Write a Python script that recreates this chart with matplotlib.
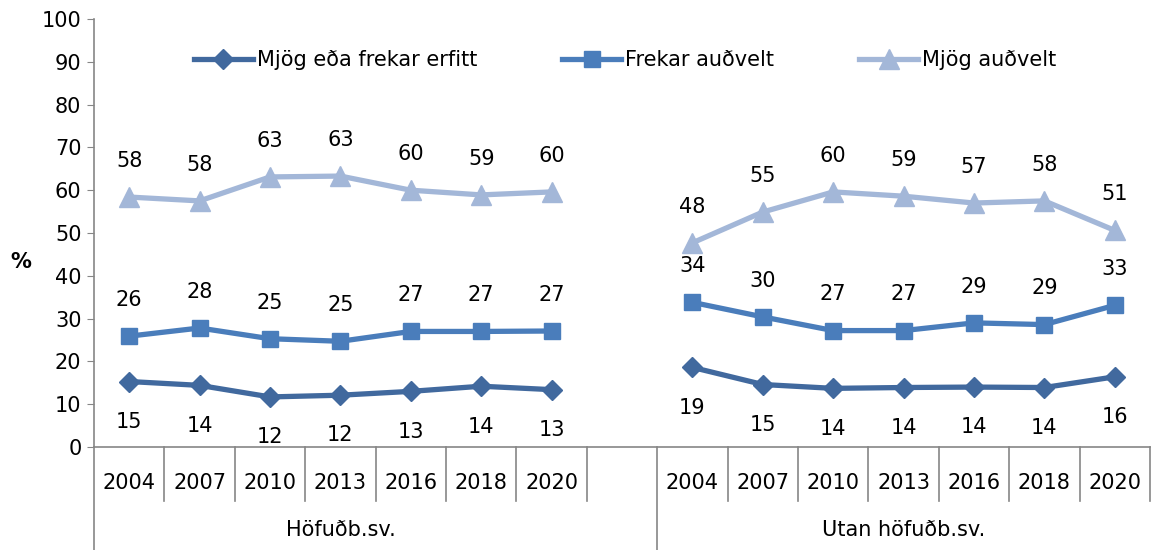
import numpy as np
import matplotlib
matplotlib.use('Agg')
import matplotlib.pyplot as plt
import matplotlib.transforms as mtransforms

plt.rcParams['font.family'] = ['DejaVu Sans']

years = ['2004', '2007', '2010', '2013', '2016', '2018', '2020']
groups = ['Höfuðb.sv.', 'Utan höfuðb.sv.']
series_names = ['Mjög eða frekar erfitt', 'Frekar auðvelt', 'Mjög auðvelt']

# values per group (Höfuðb.sv., Utan höfuðb.sv.)
erfitt_hofud = [15.3, 14.4, 11.7, 12.1, 13.0, 14.2, 13.4]
erfitt_utan = [18.6, 14.6, 13.7, 13.9, 14.0, 13.9, 16.4]
frekar_hofud = [25.9, 27.8, 25.3, 24.7, 27.0, 27.0, 27.1]
frekar_utan = [33.8, 30.4, 27.2, 27.2, 29.0, 28.6, 33.1]
mjog_hofud = [58.4, 57.5, 63.1, 63.3, 60.0, 58.9, 59.6]
mjog_utan = [47.7, 54.9, 59.6, 58.6, 57.0, 57.5, 50.6]

colors = ['#41699E', '#4A7DBB', '#A3B7D8']
markers = ['D', 's', '^']
msizes = [10, 12, 14]
label_offsets = [-29, 26, 26]
FS = 15

n = len(years)
# blank category between the two groups
x_left = np.arange(n)
x_right = np.arange(n) + n + 1
ncat = 2 * n + 1

fig = plt.figure(figsize=(11.51, 5.5), dpi=100)
ax = fig.add_axes([94 / 1151, 1 - 447 / 550, 1056 / 1151, 428 / 550])

data = [(erfitt_hofud, erfitt_utan), (frekar_hofud, frekar_utan), (mjog_hofud, mjog_utan)]
handles = []
for k, (left, right) in enumerate(data):
    vals = np.full(ncat, np.nan)
    vals[x_left] = left
    vals[x_right] = right
    h, = ax.plot(np.arange(ncat), vals, color=colors[k], lw=3.8, marker=markers[k],
                 ms=msizes[k], mec=colors[k], mfc=colors[k], label=series_names[k])
    handles.append(h)
    for xi, v in zip(np.arange(ncat), vals):
        if np.isnan(v):
            continue
        ax.annotate(f'{v:.0f}', (xi, v), xytext=(0, label_offsets[k]),
                    textcoords='offset points', ha='center', va='center', fontsize=FS)

ax.set_xlim(-0.5, ncat - 0.5)
ax.set_ylim(0, 100)
ax.set_yticks(np.arange(0, 101, 10))
ax.tick_params(axis='y', labelsize=FS, length=5, color='#868686', pad=4)
ax.set_xticks([])
ax.set_ylabel('%', rotation=0, fontsize=FS, fontweight='bold', va='center')
ax.yaxis.set_label_coords(-0.069, 0.432)

for s in ['top', 'right']:
    ax.spines[s].set_visible(False)
for s in ['left', 'bottom']:
    ax.spines[s].set_color('#868686')
    ax.spines[s].set_linewidth(1.2)

# multi-level category axis
trans = mtransforms.blended_transform_factory(ax.transData, ax.transAxes)
short_y = -0.125
long_y = -0.25
for b in np.arange(ncat + 1) - 0.5:
    bottom = long_y if b in (-0.5, n + 0.5) else short_y
    ax.plot([b, b], [0, bottom], transform=trans, color='#868686', lw=1.2, clip_on=False)

for xs in (x_left, x_right):
    for xi, yr in zip(xs, years):
        ax.text(xi, -0.084, yr, transform=trans, ha='center', va='center', fontsize=FS)

ax.text(np.mean(x_left), -0.195, groups[0], transform=trans, ha='center', va='center', fontsize=FS)
ax.text(np.mean(x_right), -0.195, groups[1], transform=trans, ha='center', va='center', fontsize=FS)

ax.legend(handles=handles, loc='center', bbox_to_anchor=(0.503, 0.904), ncol=3,
          frameon=False, fontsize=FS, handlelength=2.8, handletextpad=0.2,
          columnspacing=4.1)

fig.savefig('out.png', dpi=100)
